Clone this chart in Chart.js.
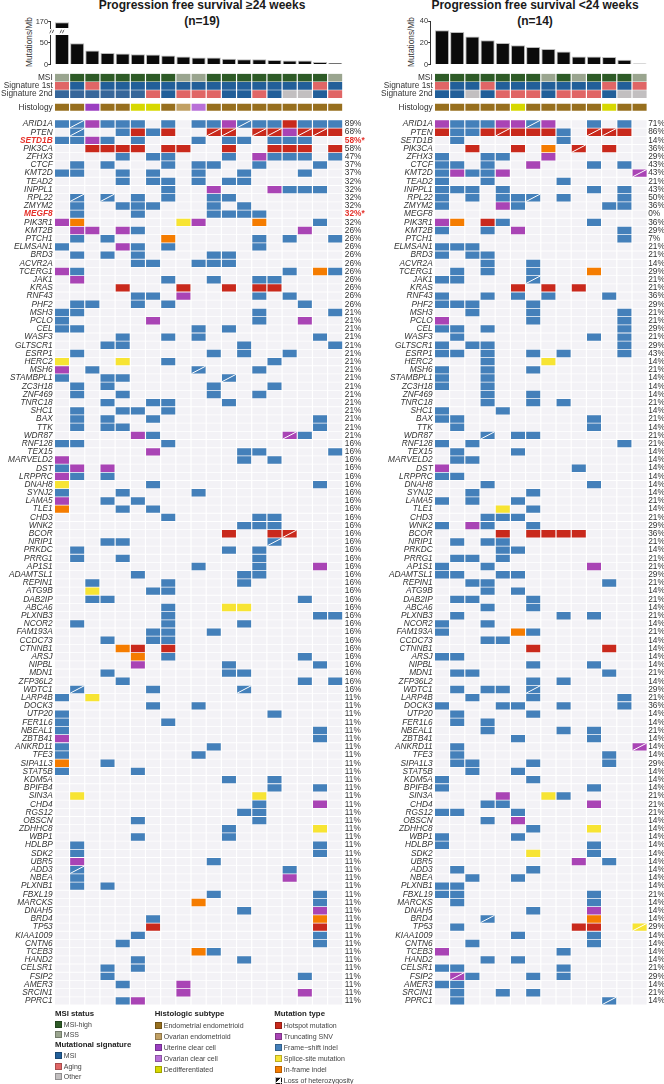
<!DOCTYPE html>
<html>
<head>
<meta charset="utf-8">
<title>Progression free survival</title>
<script src="https://cdn.jsdelivr.net/npm/chart.js@4"></script>
<style>
html, body { margin: 0; padding: 0; background: #fff; width: 664px; height: 1084px; overflow: hidden; }
body { position: relative; font-family: "Liberation Sans", sans-serif; color: #333; }
canvas { position: absolute; }
.title { position: absolute; top: -2px; text-align: center; font-weight: bold; font-size: 12px; line-height: 15.5px; color: #1a1a1a; white-space: nowrap; }
.axis-title { position: absolute; top: 37px; width: 60px; height: 10px; line-height: 10px; text-align: center; font-size: 8.3px; transform: rotate(-90deg); }
.lg { position: absolute; font-size: 7px; line-height: 9px; color: #444; white-space: nowrap; }
.lg.head { font-weight: bold; font-size: 7.8px; color: #222; }
.sw { position: absolute; width: 5px; height: 5px; border: 1px solid rgba(0,0,0,.25); }
</style>
</head>
<body>
<div class="title" style="left:0;width:404px">Progression free survival ≥24 weeks<br>(n=19)</div>
<div class="title" style="left:335px;width:400px">Progression free survival &lt;24 weeks<br>(n=14)</div>
<div class="axis-title" style="left:-1px">Mutations/Mb</div>
<div class="axis-title" style="left:381px">Mutations/Mb</div>

<canvas id="leftUpper" width="345" height="20" style="left:0;top:15px"></canvas>
<canvas id="leftLower" width="345" height="34" style="left:0;top:34px"></canvas>
<canvas id="rightBars" width="294" height="52" style="left:370px;top:16px"></canvas>
<canvas id="leftHeat" width="370" height="940" style="left:0;top:70px"></canvas>
<canvas id="rightHeat" width="294" height="940" style="left:370px;top:70px"></canvas>

<div id="legend"></div>

<script>
var geneNames = ["ARID1A","PTEN","SETD1B","PIK3CA","ZFHX3","CTCF","KMT2D","TEAD2","INPPL1","RPL22","ZMYM2","MEGF8","PIK3R1","KMT2B","PTCH1","ELMSAN1","BRD3","ACVR2A","TCERG1","JAK1","KRAS","RNF43","PHF2","MSH3","PCLO","CEL","WASF3","GLTSCR1","ESRP1","HERC2","MSH6","STAMBPL1","ZC3H18","ZNF469","TNRC18","SHC1","BAX","TTK","WDR87","RNF128","TEX15","MARVELD2","DST","LRPPRC","DNAH8","SYNJ2","LAMA5","TLE1","CHD3","WNK2","BCOR","NRIP1","PRKDC","PRRG1","AP1S1","ADAMTSL1","REPIN1","ATG9B","DAB2IP","ABCA6","PLXNB3","NCOR2","FAM193A","CCDC73","CTNNB1","ARSJ","NIPBL","MDN1","ZFP36L2","WDTC1","LARP4B","DOCK3","UTP20","FER1L6","NBEAL1","ZBTB41","ANKRD11","TFE3","SIPA1L3","STAT5B","KDM5A","BPIFB4","SIN3A","CHD4","RGS12","OBSCN","ZDHHC8","WBP1","HDLBP","SDK2","UBR5","ADD3","NBEA","PLXNB1","FBXL19","MARCKS","DNAH5","BRD4","TP53","KIAA1009","CNTN6","TCEB3","HAND2","CELSR1","FSIP2","AMER3","SRCIN1","PPRC1"];

var annotationNames = ["MSI","Signature 1st","Signature 2nd","Histology"];
var starredGenes = ["SETD1B","MEGF8"];

var leftBurden = [168,48,32,26,25,23.5,22.7,20.5,18,16,16,13,12,12,10,9,9,5.5,3.5];
var rightBurden = [31.4,30,25.8,22.4,19.7,17.8,16,14.2,12,7.4,7.4,6.8,4.3,1];

// one letter per patient: H/S msi, M/A/O signature, E/O/U/C/D histology
var leftMsi = "SHHHHHHHSSHHHHHHHHS";
var leftSig1 = "AMAMMMMMMMMMMMMMMAM";
var leftSig2 = "mmmmmmAMAAAMMAMOOMA";
var leftHist = "EEUEEDDEOCEEEEEEEEE";
var rightMsi = "HHHHHHHSHSHHHS";
var rightSig1 = "AMMAMMMMMMMAMA";
var rightSig2 = "MMOMAAAMAAAMOO";
var rightHist = "EEEEEDEEEEEDEE";

var leftPct = [89,68,58,58,47,37,37,32,32,32,32,32,32,26,26,26,26,26,26,26,26,26,26,21,21,21,21,21,21,21,21,21,21,21,21,21,21,21,21,16,16,16,16,16,16,16,16,16,16,16,16,16,16,16,16,16,16,16,16,16,16,16,16,16,16,16,16,16,16,16,11,11,11,11,11,11,11,11,11,11,11,11,11,11,11,11,11,11,11,11,11,11,11,11,11,11,11,11,11,11,11,11,11,11,11,11,11,11];
var rightPct = [71,86,14,36,29,43,43,21,43,50,36,0,36,29,7,21,21,14,29,21,21,36,29,21,21,29,21,29,43,14,21,14,14,14,21,14,21,14,21,21,14,14,14,14,14,14,21,14,21,29,36,21,14,21,21,29,21,14,21,14,21,14,21,14,14,14,14,21,14,29,21,36,14,14,21,14,14,14,29,14,14,14,21,21,21,14,14,14,14,14,14,14,14,14,21,14,14,14,29,14,14,14,14,21,29,14,21,14];

// F frame-shift, T truncating, H hotspot, S splice, I in-frame, lower case = with LOH
var leftCalls = [
"FfTFFF.F.FFTfFFHFFF",".f..FHFH..hh.hhThhH","FFTF.F...F.FF.FFF..","..HHHH.HH..H..HHH.H","....F.FF...F.TFFF.F",
".F.F...F.FF..F...F.","FF..F.F..F..F...F..","....F.FF.F.FF......",".......F..T...TFFF.",".f.f.F.F..FF.......",
".F..FFF...F.F......",".F...F....FFFF.....","TI......ST...I...F.",".TT.TF..........T..",".F.F...I.....F.F..F",
"F...TF.F.....F.....",".F.F.F....FF.......",".....FF..FFF.......","TF.............F.IF",".T.....F..F..FF....",
"....H...H..H.HH....",".....FF.T....F.F...",".FF..F.F........F..","FF...........F....F","F.....T......F..T..",
"FF.......F.F.......","....F..F.F.......F.","...FF.......F.....F",".F........F.F..F...","S...S..F......F....",
"T.F......f...F.....","F..FF......f.......",".F.F......F...F....",".F..F.....F..F.....","...F..FF...F.......",
".F..FF.F...........",".F.F..F..........F.",".F.FF............F.",".....TF........tF..","FF.....F...........",
"......T.....FF....F","T...........F.F....","FT.T...............","TF.F...............","S.....F..........F.",
"F...F....F.........","T..F.F.............","I...F.F............",".......F.....FF....","............FFF....",
"...........H..Hh...","...FF.........f....",".F.........F.F.....",".F..F........F.....",".........F...F...T.",
".....F......FF.....","..F....F....F......","..S...FF...........","..FF............F..",".......F...SS......",
".......F.........FF",".F.....F....F......","......FF..F........","...F..FF...........","....IH.H...........",
".....I.F........F..",".....T.....F.....F.","...F.......FF......","....F...........F.F",".f....F.....f......",
"F.S................","......F..F.........","F.............F....","F......F...........","F................F.",
"T................F.","F.........F........","F........F.........","I..F...............","F....F.............",
"...........F..F....","..............F..F.",".S...........S.....",".............F...T.","............FF.....",
".....F.......F.....","...........F.....S.",".....F.....F.......",".F...............F.",".F...............F.",
".T........F........",".f.............F...",".F.............T...",".F.F...............","..........F......F.",
".........I.......F.","............F....T.","......F..........I.","......H..........H.",".....F...........F.",
"....F............F.",".........IF........",".....F......F......","...F.F.............","...F............F..",
"....F...T..........","........T.......T..","....FT............."
];
var rightCalls = [
"TFFFTTfT..F.F.","HFFHhHHHF.hhH.",".F......F.....","..H..H.I.h.H..","F..FF..T......",
"FF.F..T...F.F.","FTFFT........t","F..F....F.....","FFF.F.....F.F.","F.F.FFf.F...F.",
"F...TF.....FF.","..............","TI.HF.....F...","F..F.T......F.","............F.",
"FFF...........","F.FF..........","...F..F.......",".F.F..F...I...","FF....f.......",
".....H.H.H....","F..F.F.F...F..","FFF...F.......","..F...F.....F.","T.....F.....F.",
"FF.F........F.",".F........F.F.","F.FF........F.","FF.F..F.F...F.","...F...S......",
"F..F..F.......","F..F..........","F..F..........","...F..F.......","...F..F.F.....",
"F...F.........","FF........F...",".F........F...","...f.FF.......","F.F.........F.",
".F...F........",".FF...........","T........F....","FF............","...F......F...",
"..F...F.......","F.F..F........","....S.F.......","...FFF........","F.TF..F.......",
"....H.HHHH....",".F.FF.........","....FF........",".FF.F.........","F..F......T...",
"FF..FF........","..FF.......F..","...F.F........",".FF...F.......","...F..F.......",
".F......F.F...","F..F..........","F....IF.......","...FF.........","......H....H..",
"FF............","......F...F...",".FF........F..","......F.F.....",".F.FF.f.......",
"..F...F.....F.","F...FF..F...F.",".F....F.......",".F.F..........","...F....F.F...",
".....F....F...",".F...........t",".F.........F..",".FF...F....F..","..F..F........",
"F.....F.......","F.........F...","....T..SF.....","...FF.....T...","FF...F........",
"...F.T........","......F...S...","F....F........","F.........F...","......S...F...",
".........T.F..",".F....F.......","..F..F........","FF............","FF........F...",
".F........F...","......F...T...","...f......I...",".F.......HH..s",".....F....F...",
"..F.......F...","T.......F.....","...F.F........","FF......F.....",".tF...F.F.....",
"FF............",".F..F.F.......",".F.........f.."
];

var fontFamily = "'Liberation Sans', sans-serif";
var textColor = "#333";
var starColor = "#e5322b";
var emptyColor = "#f3f2f6";

var mutationColors = { H: "#c9291c", T: "#a944b5", F: "#4480ba", S: "#f7e433", I: "#f57c00" };
var msiColors = { H: "#2e5b27", S: "#9aa58f" };
var sigColors = { M: "#225f99", m: "#37679a", A: "#e06666", O: "#c2bfc0" };
var histColors = { E: "#976f1e", O: "#c1a063", U: "#9b3fc1", C: "#b970d8", D: "#d7d800" };

// vertical slots of the annotation strips, in row units above the first gene
var annotationSlots = [-5.65, -4.65, -3.65, -2.04];
var rowMin = -6.15, rowMax = 107.5;

function cellDataset(name, color, points, halfHeight, order) {
  return {
    label: name,
    type: "bar",
    data: points.map(function(p) { return { x: p.x, y: [p.y - halfHeight, p.y + halfHeight] }; }),
    backgroundColor: color,
    borderWidth: 0,
    borderSkipped: false,
    grouped: false,
    barPercentage: 0.922,
    categoryPercentage: 1,
    order: order
  };
}

function fixedTicks(values) {
  return function(scale) {
    scale.ticks = values.map(function(v) { return { value: v }; });
  };
}

function range(n) {
  var out = [];
  for (var i = 0; i < n; i++) out.push(i);
  return out;
}

function heatChart(id, calls, pct, msi, sig1, sig2, hist, opts) {
  var cols = range(msi.length);
  var rows = range(geneNames.length);
  var datasets = [];

  var empty = [];
  rows.forEach(function(r) { cols.forEach(function(c) { empty.push({ x: c, y: r }); }); });
  datasets.push(cellDataset("none", emptyColor, empty, 0.45, 3));

  Object.keys(mutationColors).forEach(function(code) {
    var pts = [];
    rows.forEach(function(r) {
      cols.forEach(function(c) {
        if (calls[r][c] && calls[r][c].toUpperCase() === code) pts.push({ x: c, y: r });
      });
    });
    datasets.push(cellDataset(code, mutationColors[code], pts, 0.45, 2));
  });

  var strips = [[msi, msiColors], [sig1, sigColors], [sig2, sigColors], [hist, histColors]];
  strips.forEach(function(strip, s) {
    Object.keys(strip[1]).forEach(function(code) {
      var pts = [];
      cols.forEach(function(c) {
        if (strip[0][c] === code) pts.push({ x: c, y: annotationSlots[s] });
      });
      datasets.push(cellDataset(annotationNames[s] + code, strip[1][code], pts, s === 3 ? 0.43 : 0.47, 2));
    });
  });

  var loh = [];
  rows.forEach(function(r) {
    cols.forEach(function(c) {
      var v = calls[r][c];
      if (v && v !== "." && v === v.toLowerCase()) loh.push({ x: c, y: r });
    });
  });
  datasets.push({
    label: "LOH",
    type: "scatter",
    data: loh,
    pointStyle: "line",
    pointRadius: 7.9,
    pointRotation: -27.7,
    pointBorderColor: "#fff",
    pointBackgroundColor: "#fff",
    pointBorderWidth: 1,
    order: 0
  });

  var leftLabels = annotationNames.concat(geneNames);
  var isStar = function(i) { return opts.stars && starredGenes.indexOf(geneNames[i]) !== -1; };

  return new Chart(document.getElementById(id), {
    type: "bar",
    data: { datasets: datasets },
    options: {
      responsive: false,
      animation: false,
      events: [],
      layout: { autoPadding: false, padding: { top: 3.6, bottom: 5, left: 0, right: 0 } },
      plugins: { legend: { display: false }, tooltip: { enabled: false } },
      scales: {
        x: {
          type: "linear", display: false, offset: false,
          min: -0.5, max: cols.length - 0.5,
          afterBuildTicks: fixedTicks(cols)
        },
        y: {
          type: "linear", position: "left", reverse: true, min: rowMin, max: rowMax,
          afterBuildTicks: fixedTicks(annotationSlots.concat(rows)),
          afterFit: function(s) { s.width = opts.yWidth; s.paddingTop = 0; s.paddingBottom = 0; },
          grid: { display: false, drawTicks: false },
          border: { display: false },
          ticks: {
            autoSkip: false,
            padding: 1.7,
            callback: function(v, i) { return leftLabels[i]; },
            color: function(c) { return isStar(c.index - 4) ? starColor : textColor; },
            font: function(c) {
              var isGene = c.index >= 4;
              return {
                family: fontFamily, size: 8.3,
                style: isGene ? "italic" : "normal",
                weight: isStar(c.index - 4) ? "bold" : "normal"
              };
            }
          }
        },
        y2: {
          type: "linear", position: "right", reverse: true, min: rowMin, max: rowMax,
          afterBuildTicks: fixedTicks(rows),
          afterFit: function(s) { s.width = opts.pctWidth; s.paddingTop = 0; s.paddingBottom = 0; },
          grid: { display: false, drawTicks: false },
          border: { display: false },
          ticks: {
            autoSkip: false,
            padding: opts.pctPad,
            callback: function(v, i) { return pct[i] + "%" + (isStar(i) ? "*" : ""); },
            color: function(c) { return isStar(c.index) ? starColor : textColor; },
            font: function(c) {
              return { family: fontFamily, size: 8.3, weight: isStar(c.index) ? "bold" : "normal" };
            }
          }
        }
      }
    }
  });
}

function burdenChart(id, values, yMin, yMax, tickValues, opts) {
  var cols = range(values.length);
  return new Chart(document.getElementById(id), {
    type: "bar",
    data: {
      datasets: [{
        label: "Mutations/Mb",
        data: values.map(function(v, i) { return { x: i, y: v }; }),
        backgroundColor: "#0b0b0b",
        borderColor: "rgba(130,130,130,.55)",
        borderWidth: { top: 1, right: 1, left: 1, bottom: 0 },
        borderSkipped: false,
        grouped: false,
        barPercentage: 0.93,
        categoryPercentage: 1
      }]
    },
    options: {
      responsive: false,
      animation: false,
      events: [],
      layout: { padding: opts.padding },
      plugins: { legend: { display: false }, tooltip: { enabled: false } },
      scales: {
        x: {
          type: "linear", display: false, offset: false,
          min: opts.xMin, max: values.length - 0.5,
          afterBuildTicks: fixedTicks(cols)
        },
        y: {
          type: "linear", min: yMin, max: yMax,
          afterBuildTicks: fixedTicks(tickValues),
          afterFit: function(s) { s.width = opts.yWidth; s.paddingTop = 0; s.paddingBottom = 0; },
          grid: { drawOnChartArea: false, tickLength: 2.5, tickColor: "#333", tickWidth: 1 },
          border: { display: true, color: "#333", width: 1 },
          ticks: {
            autoSkip: false, padding: 0.2, color: textColor,
            font: { family: fontFamily, size: 7.4 },
            callback: function(v) { return String(v); }
          }
        }
      }
    },
    plugins: opts.plugins || []
  });
}

// little squiggles where the axis and the first bar are cut
var breakMarks = {
  id: "breakMarks",
  afterDraw: function(chart) {
    var c = chart.ctx, a = chart.chartArea;
    var xs = [a.left + 1, chart.scales.x.getPixelForValue(0)];
    c.save();
    c.strokeStyle = "#222";
    c.lineWidth = 0.8;
    xs.forEach(function(x) {
      [-1.2, 1.2].forEach(function(dx) {
        c.beginPath();
        c.moveTo(x + dx - 1, a.bottom + 5);
        c.bezierCurveTo(x + dx + 1, a.bottom + 4, x + dx - 1, a.bottom + 3, x + dx + 1, a.bottom + 2);
        c.stroke();
      });
    });
    c.restore();
  }
};

burdenChart("leftUpper", leftBurden, 150, 170, [170], {
  yWidth: 50.7, xMin: -0.744, padding: { top: 6.5, bottom: 7, left: 0, right: 2.2 }, plugins: [breakMarks]
});
burdenChart("leftLower", leftBurden, 0, 67, [0, 50], {
  yWidth: 50.7, xMin: -0.744, padding: { top: 1, bottom: 3.5, left: 0, right: 2.2 }
});
burdenChart("rightBars", rightBurden, 0, 40, [0, 20, 40], {
  yWidth: 60.7, xMin: -0.743, padding: { top: 5, bottom: 3.5, left: 0, right: 16.8 }
});

heatChart("leftHeat", leftCalls, leftPct, leftMsi, leftSig1, leftSig2, leftHist, {
  yWidth: 54.4, pctWidth: 27.2, pctPad: 2, stars: true
});
heatChart("rightHeat", rightCalls, rightPct, rightMsi, rightSig1, rightSig2, rightHist, {
  yWidth: 64.4, pctWidth: 16.8, pctPad: 1, stars: false
});

// legend
var legendHeads = [["MSI status", 55, 1013], ["Mutational signature", 55, 1044], ["Histologic subtype", 154.7, 1013.7], ["Mutation type", 274.3, 1013.7]];
var legendItems = [
  ["MSI-high", msiColors.H, 55, 1024.3], ["MSS", msiColors.S, 55, 1034.7],
  ["MSI", sigColors.M, 55, 1055.7], ["Aging", sigColors.A, 55, 1066], ["Other", sigColors.O, 55, 1076.3],
  ["Endometrial endometrioid", histColors.E, 155, 1025.5], ["Ovarian endometrioid", histColors.O, 155, 1036.3],
  ["Uterine clear cell", histColors.U, 155, 1047.3], ["Ovarian clear cell", histColors.C, 155, 1058.3], ["Dedifferentiated", histColors.D, 155, 1069],
  ["Hotspot mutation", mutationColors.H, 275, 1025.5], ["Truncating SNV", mutationColors.T, 275, 1036.3],
  ["Frame\u2212shift indel", mutationColors.F, 275, 1047.3], ["Splice-site mutation", mutationColors.S, 275, 1058.3],
  ["In-frame indel", mutationColors.I, 275, 1069], ["Loss of heterozygosity", "LOH", 275, 1080]
];
var legendBox = document.getElementById("legend");
legendHeads.forEach(function(h) {
  var d = document.createElement("div");
  d.className = "lg head";
  d.textContent = h[0];
  d.style.left = h[1] + "px";
  d.style.top = (h[2] - 4.5) + "px";
  legendBox.appendChild(d);
});
legendItems.forEach(function(it) {
  var s = document.createElement("div");
  s.className = "sw";
  s.style.left = it[2] + "px";
  s.style.top = (it[3] - 3.5) + "px";
  s.style.background = it[1] === "LOH" ? "linear-gradient(135deg,#111 50%,#fff 50%)" : it[1];
  legendBox.appendChild(s);
  var d = document.createElement("div");
  d.className = "lg";
  d.textContent = it[0];
  d.style.left = (it[2] + 8.8) + "px";
  d.style.top = (it[3] - 4.5) + "px";
  legendBox.appendChild(d);
});
</script>
</body>
</html>
